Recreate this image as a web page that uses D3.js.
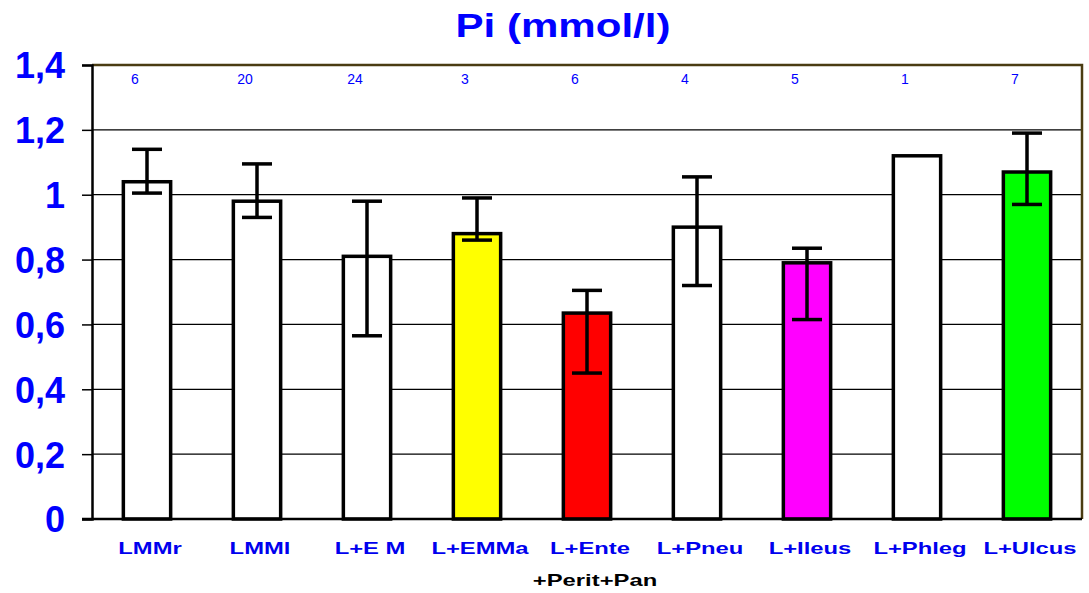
<!DOCTYPE html>
<html>
<head>
<meta charset="utf-8">
<script src="https://cdn.jsdelivr.net/npm/d3@7"></script>
<style>
  body { margin: 0; background: #fff; }
  text { font-family: Arial, "Liberation Sans", sans-serif; }
</style>
</head>
<body>
<div id="chart-area"></div>
<script>
// data
var categories = ["LMMr", "LMMl", "L+E M", "L+EMMa", "L+Ente", "L+Pneu", "L+Ileus", "L+Phleg", "L+Ulcus"];
var means   = [1.04, 0.98, 0.81, 0.88, 0.635, 0.90, 0.79, 1.12, 1.07];
var errHigh = [1.14, 1.095, 0.98, 0.99, 0.705, 1.055, 0.835, null, 1.19];
var errLow  = [1.005, 0.93, 0.565, 0.86, 0.45, 0.72, 0.615, null, 0.97];
var counts  = ["6", "20", "24", "3", "6", "4", "5", "1", "7"];
var fills   = ["#ffffff", "#ffffff", "#ffffff", "#ffff00", "#ff0000", "#ffffff", "#ff00ff", "#ffffff", "#00ff00"];
var yTicks  = [0, 0.2, 0.4, 0.6, 0.8, 1, 1.2, 1.4];

var width = 1089, height = 593;
// plot edges (note: "top" is reserved on window, so use plot* names)
var plotLeft = 92, plotRight = 1082, plotTop = 65, plotBottom = 519;

var svg = d3.select("#chart-area")
    .append("svg")
    .attr("width", width)
    .attr("height", height);

var x = d3.scaleBand()
    .domain(categories)
    .range([plotLeft, plotRight])
    .padding(0);

var y = d3.scaleLinear()
    .domain([0, 1.4])
    .range([plotBottom, plotTop]);

var barW = x.bandwidth() * 0.43;

// title (the original font is a bit wider than Arial)
svg.append("text")
    .attr("x", 563)
    .attr("y", 37)
    .attr("text-anchor", "middle")
    .attr("font-size", 34)
    .attr("font-weight", "bold")
    .attr("fill", "#0000ff")
    .attr("textLength", 215)
    .attr("lengthAdjust", "spacingAndGlyphs")
    .text("Pi (mmol/l)");

// gridlines
svg.selectAll("line.grid")
    .data(yTicks.filter(function(t){ return t > 0 && t < 1.4; }))
  .enter()
    .append("line")
    .attr("class", "grid")
    .attr("x1", plotLeft).attr("x2", plotRight)
    .attr("y1", function(d){ return y(d); })
    .attr("y2", function(d){ return y(d); })
    .attr("stroke", "#000")
    .attr("stroke-width", 1.2);

// frame top + right
svg.append("path")
    .attr("d", "M" + plotLeft + "," + y(1.4) + "H" + plotRight + "V" + plotBottom)
    .attr("fill", "none")
    .attr("stroke", "#4a3c12")
    .attr("stroke-width", 2.5);

// y axis
var yAxis = d3.axisLeft(y)
    .tickValues(yTicks)
    .tickSize(10)
    .tickFormat(function(d){ return d3.format("~g")(d).replace(".", ","); });

var gy = svg.append("g")
    .attr("transform", "translate(" + plotLeft + ",0)")
    .call(yAxis);
gy.select(".domain").attr("stroke", "#000").attr("stroke-width", 2.5);
gy.selectAll(".tick line").attr("stroke", "#000").attr("stroke-width", 1.5);
gy.selectAll(".tick text")
    .attr("x", -27)
    .attr("dy", "0.36em")
    .attr("font-size", 36)
    .attr("font-weight", "bold")
    .attr("font-family", "Arial, 'Liberation Sans', sans-serif")
    .attr("fill", "#0000ff");

// bars
svg.selectAll("rect.bar")
    .data(categories)
  .enter()
    .append("rect")
    .attr("class", "bar")
    .attr("x", function(d){ return x(d) + x.bandwidth() / 2 - barW / 2; })
    .attr("y", function(d, i){ return y(means[i]); })
    .attr("width", barW)
    .attr("height", function(d, i){ return plotBottom - y(means[i]); })
    .attr("fill", function(d, i){ return fills[i]; })
    .attr("stroke", "#000")
    .attr("stroke-width", 3.5);

// error bars
var errData = categories.map(function(c, i){
    return {cat: c, lo: errLow[i], hi: errHigh[i]};
}).filter(function(d){ return d.hi !== null; });

var eg = svg.selectAll("g.err")
    .data(errData)
  .enter()
    .append("g")
    .attr("class", "err")
    .attr("stroke", "#000")
    .attr("stroke-width", 3.5);

eg.append("line")
    .attr("x1", function(d){ return x(d.cat) + x.bandwidth() / 2; })
    .attr("x2", function(d){ return x(d.cat) + x.bandwidth() / 2; })
    .attr("y1", function(d){ return y(d.hi); })
    .attr("y2", function(d){ return y(d.lo); });

eg.selectAll("line.cap")
    .data(function(d){ return [{cat: d.cat, v: d.hi}, {cat: d.cat, v: d.lo}]; })
  .enter()
    .append("line")
    .attr("class", "cap")
    .attr("x1", function(d){ return x(d.cat) + x.bandwidth() / 2 - 15; })
    .attr("x2", function(d){ return x(d.cat) + x.bandwidth() / 2 + 15; })
    .attr("y1", function(d){ return y(d.v); })
    .attr("y2", function(d){ return y(d.v); });

// x baseline
svg.append("line")
    .attr("x1", plotLeft - 10).attr("x2", plotRight)
    .attr("y1", plotBottom).attr("y2", plotBottom)
    .attr("stroke", "#000")
    .attr("stroke-width", 2.5);

// counts
svg.selectAll("text.count")
    .data(categories)
  .enter()
    .append("text")
    .attr("class", "count")
    .attr("x", function(d){ return x(d) + x.bandwidth() / 2 - 12; })
    .attr("y", 84)
    .attr("text-anchor", "middle")
    .attr("font-size", 14)
    .attr("fill", "#0000ff")
    .text(function(d, i){ return counts[i]; });

// category labels, stretched sideways like the original
svg.selectAll("text.cat")
    .data(categories)
  .enter()
    .append("text")
    .attr("class", "cat")
    .attr("transform", function(d){
        return "translate(" + (x(d) + x.bandwidth() / 2 + 3) + ",554) scale(1.4,1)";
    })
    .attr("text-anchor", "middle")
    .attr("font-size", 17)
    .attr("font-weight", "bold")
    .attr("fill", "#0000ee")
    .text(function(d){ return d; });

svg.append("text")
    .attr("transform", "translate(" + (x("L+Ente") + x.bandwidth() / 2 + 8) + ",586) scale(1.4,1)")
    .attr("text-anchor", "middle")
    .attr("font-size", 17)
    .attr("font-weight", "bold")
    .attr("fill", "#000")
    .text("+Perit+Pan");
</script>
</body>
</html>
